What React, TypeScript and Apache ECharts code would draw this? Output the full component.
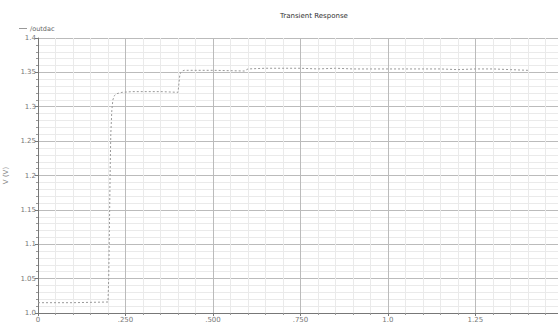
import React, { useEffect, useRef } from "react";
import * as echarts from "echarts";

const title = "Transient Response";
const seriesName = "/outdac";
const timeValues = [0, 0.1, 0.1, 0.2, 0.202, 0.204, 0.206, 0.208, 0.211, 0.214, 0.218, 0.225, 0.24, 0.27, 0.3, 0.35, 0.4, 0.402, 0.405, 0.408, 0.412, 0.418, 0.43, 0.5, 0.59, 0.6, 0.65, 0.7, 0.75, 0.8, 0.85, 0.9, 0.95, 1.0, 1.05, 1.1, 1.15, 1.2, 1.25, 1.3, 1.35, 1.4];
const voltValues = [1.015, 1.015, 1.016, 1.016, 1.05, 1.12, 1.2, 1.26, 1.295, 1.31, 1.316, 1.319, 1.321, 1.322, 1.322, 1.322, 1.321, 1.33, 1.345, 1.35, 1.352, 1.353, 1.353, 1.353, 1.352, 1.355, 1.356, 1.356, 1.356, 1.355, 1.356, 1.355, 1.355, 1.355, 1.355, 1.355, 1.355, 1.354, 1.355, 1.355, 1.354, 1.353];
const xTickValues = [0, 0.25, 0.5, 0.75, 1.0, 1.25];
const xTickLabels = ["0", ".250", ".500", ".750", "1.0", "1.25"];
const yTickValues = [1.0, 1.05, 1.1, 1.15, 1.2, 1.25, 1.3, 1.35, 1.4];
const yTickLabels = ["1.0", "1.05", "1.1", "1.15", "1.2", "1.25", "1.3", "1.35", "1.4"];

const font = "DejaVu Sans";

function lookup(v: number, vals: number[], labels: string[]) {
  for (let i = 0; i < vals.length; i++) if (Math.abs(vals[i] - v) < 1e-6) return labels[i];
  return "";
}

export default function App() {
  const ref = useRef<HTMLDivElement>(null);
  useEffect(() => {
    if (!ref.current) return;
    const chart = echarts.init(ref.current, undefined, { renderer: "svg" });
    chart.setOption({
      animation: false,
      backgroundColor: "#ffffff",
      title: {
        text: title,
        left: 309,
        top: 7,
        textAlign: "center",
        textStyle: { fontFamily: font, fontSize: 7, fontWeight: "normal", color: "#333" },
      },
      legend: {
        left: 14,
        top: 20,
        itemWidth: 8,
        itemHeight: 1,
        itemGap: 4,
        icon: "rect",
        textStyle: { fontFamily: font, fontSize: 6.5, color: "#666", padding: [0, 0, 0, -2] },
        data: [{ name: seriesName, itemStyle: { color: "#999" } }],
      },
      grid: { left: 38, top: 38, right: 0, bottom: 12, containLabel: false, outerBoundsMode: "none" },
      xAxis: {
        type: "value",
        min: 0,
        max: 1.486,
        interval: 0.25,
        name: "time (s)",
        nameLocation: "middle",
        nameGap: 12,
        nameTextStyle: { fontFamily: font, fontSize: 7, color: "#888" },
        axisLine: { show: true, lineStyle: { color: "#777", width: 1 } },
        axisTick: { show: true, length: 3, lineStyle: { color: "#777" } },
        minorTick: { show: true, splitNumber: 5, length: 2, lineStyle: { color: "#999" } },
        axisLabel: {
          fontFamily: font,
          fontSize: 7,
          color: "#777",
          margin: 3,
          showMaxLabel: false,
          formatter: (v: number) => lookup(v, xTickValues, xTickLabels),
        },
        splitLine: { show: true, lineStyle: { color: "#bbb", width: 1 } },
        minorSplitLine: { show: true, lineStyle: { color: "#eaeaea", width: 1 } },
      },
      yAxis: {
        type: "value",
        min: 1.0,
        max: 1.4,
        interval: 0.05,
        name: "V (V)",
        nameLocation: "middle",
        nameGap: 24,
        nameRotate: 90,
        nameTextStyle: { fontFamily: font, fontSize: 7, color: "#888" },
        axisLine: { show: true, lineStyle: { color: "#777", width: 1 } },
        axisTick: { show: true, length: 3, lineStyle: { color: "#777" } },
        minorTick: { show: true, splitNumber: 5, length: 2, lineStyle: { color: "#999" } },
        axisLabel: {
          fontFamily: font,
          fontSize: 7,
          color: "#777",
          margin: 2,
          formatter: (v: number) => lookup(v, yTickValues, yTickLabels),
        },
        splitLine: { show: true, lineStyle: { color: "#bbb", width: 1 } },
        minorSplitLine: { show: true, lineStyle: { color: "#eaeaea", width: 1 } },
      },
      series: [
        {
          name: seriesName,
          type: "line",
          showSymbol: false,
          symbol: "none",
          data: timeValues.map((t, i) => [t, voltValues[i]]),
          lineStyle: { color: "#999", width: 1, type: [2, 2] },
          itemStyle: { color: "#999" },
        },
      ],
    });
    return () => chart.dispose();
  }, []);
  return (
    <div
      ref={ref}
      style={{ position: "fixed", left: 0, top: 0, width: 558, height: 325 }}
    />
  );
}
